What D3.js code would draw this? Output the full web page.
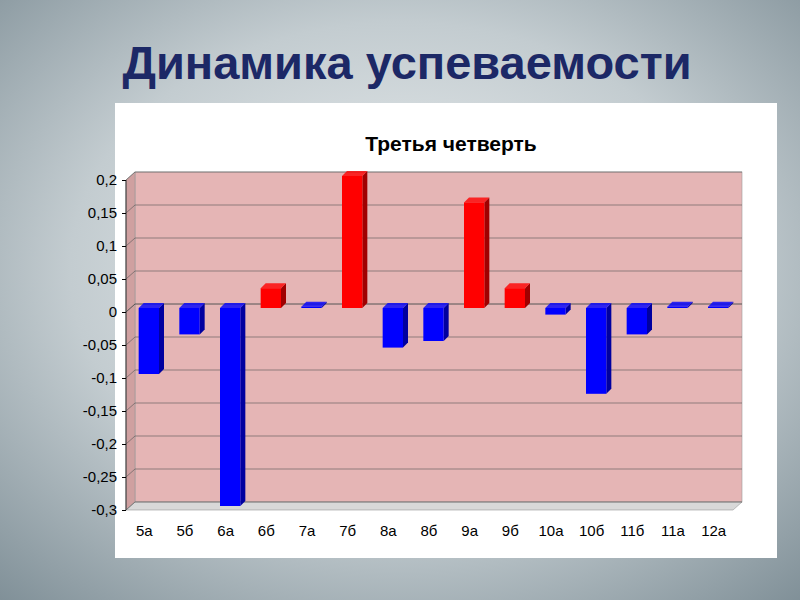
<!DOCTYPE html>
<html><head><meta charset="utf-8">
<script src="https://cdn.jsdelivr.net/npm/d3@7"></script>
<style>body{margin:0}</style></head>
<body><div id="chart"></div>
<script>
const classes = ["5а","5б","6а","6б","7а","7б","8а","8б","9а","9б","10а","10б","11б","11а","12а"];
const values = [-0.1,-0.04,-0.3,0.03,0.002,0.2,-0.06,-0.05,0.16,0.03,-0.01,-0.13,-0.04,0.002,0.002];
const ticks = [0.2,0.15,0.1,0.05,0,-0.05,-0.1,-0.15,-0.2,-0.25,-0.3];

const svg = d3.select("#chart").append("svg").attr("width",800).attr("height",600);
const defs = svg.append("defs");
const g = defs.append("radialGradient").attr("id","bg").attr("cx","50%").attr("cy","45%").attr("r","75%");
g.append("stop").attr("offset","0%").attr("stop-color","#eef1f2");
g.append("stop").attr("offset","55%").attr("stop-color","#c3ccd0");
g.append("stop").attr("offset","100%").attr("stop-color","#7f8f97");
svg.append("rect").attr("width",800).attr("height",600).attr("fill","url(#bg)");

svg.append("text").attr("x",407).attr("y",79).attr("text-anchor","middle")
  .attr("font-family","Liberation Sans, Arial").attr("font-weight","bold").attr("font-size",47)
  .attr("fill","#1c2866").text("Динамика успеваемости");

svg.append("rect").attr("x",115).attr("y",103).attr("width",662).attr("height",455).attr("fill","#fff");
svg.append("text").attr("x",451).attr("y",151).attr("text-anchor","middle")
  .attr("font-family","Liberation Sans, Arial").attr("font-weight","bold").attr("font-size",21)
  .text("Третья четверть");

const y = d3.scaleLinear().domain([-0.3,0.2]).range([510,180]);
const x = d3.scaleBand().domain(classes).range([124,734]).paddingInner(0.5).paddingOuter(0.25);
const dx = 9, dy = -8, left = 126, right = 733;

svg.append("rect").attr("x",left+dx).attr("y",y(0.2)+dy).attr("width",right-left)
  .attr("height",y(-0.3)-y(0.2)).attr("fill","#e5b5b5").attr("stroke","#999").attr("stroke-width",0.6);
svg.append("path").attr("d",`M${left},${y(0.2)}L${left+dx},${y(0.2)+dy}L${left+dx},${y(-0.3)+dy}L${left},${y(-0.3)}Z`)
  .attr("fill","#cfa0a0").attr("stroke","#999").attr("stroke-width",0.6);
svg.append("path").attr("d",`M${left},${y(-0.3)}L${left+dx},${y(-0.3)+dy}L${right+dx},${y(-0.3)+dy}L${right},${y(-0.3)}Z`)
  .attr("fill","#d8d8d8").attr("stroke","#999").attr("stroke-width",0.6);

ticks.forEach(t => {
  svg.append("path").attr("d",`M${left},${y(t)}L${left+dx},${y(t)+dy}L${right+dx},${y(t)+dy}`)
    .attr("fill","none").attr("stroke","#555").attr("stroke-width",t===0?1:0.6);
});
svg.append("line").attr("x1",left).attr("x2",left).attr("y1",y(0.2)).attr("y2",y(-0.3)).attr("stroke","#333");
svg.append("g").attr("transform",`translate(${left},0)`)
  .call(d3.axisLeft(y).tickValues(ticks).tickSize(4).tickPadding(5).tickFormat(d => String(d).replace(".",",").replace("−","-")))
  .call(s => s.select(".domain").remove())
  .call(s => s.selectAll("text").attr("font-family","Liberation Sans, Arial").attr("font-size",15).attr("fill","#000"));

const bars = svg.append("g").selectAll("g").data(values).join("g");
const bw = x.bandwidth(), d = 5;
bars.each(function(v,i){
  const s = d3.select(this);
  const x0 = x(classes[i]) + dx*0.5, top = y(Math.max(v,0)) + dy*0.5, bot = y(Math.min(v,0)) + dy*0.5;
  const col = v > 0.005 ? "#ff0000" : "#0000ff";
  const dark = v > 0.005 ? "#a00000" : "#0000a0";
  s.append("path").attr("d",`M${x0+bw},${top}L${x0+bw+d},${top-d}L${x0+bw+d},${bot-d}L${x0+bw},${bot}Z`).attr("fill",dark);
  s.append("path").attr("d",`M${x0},${top}L${x0+d},${top-d}L${x0+bw+d},${top-d}L${x0+bw},${top}Z`).attr("fill",col).attr("opacity",0.8);
  s.append("rect").attr("x",x0).attr("y",top).attr("width",bw).attr("height",Math.max(bot-top,1)).attr("fill",col);
});

svg.append("g").selectAll("text").data(classes).join("text")
  .attr("x",c => x(c)+bw/2).attr("y",536).attr("text-anchor","middle")
  .attr("font-family","Liberation Sans, Arial").attr("font-size",15).text(c => c);
</script></body></html>
